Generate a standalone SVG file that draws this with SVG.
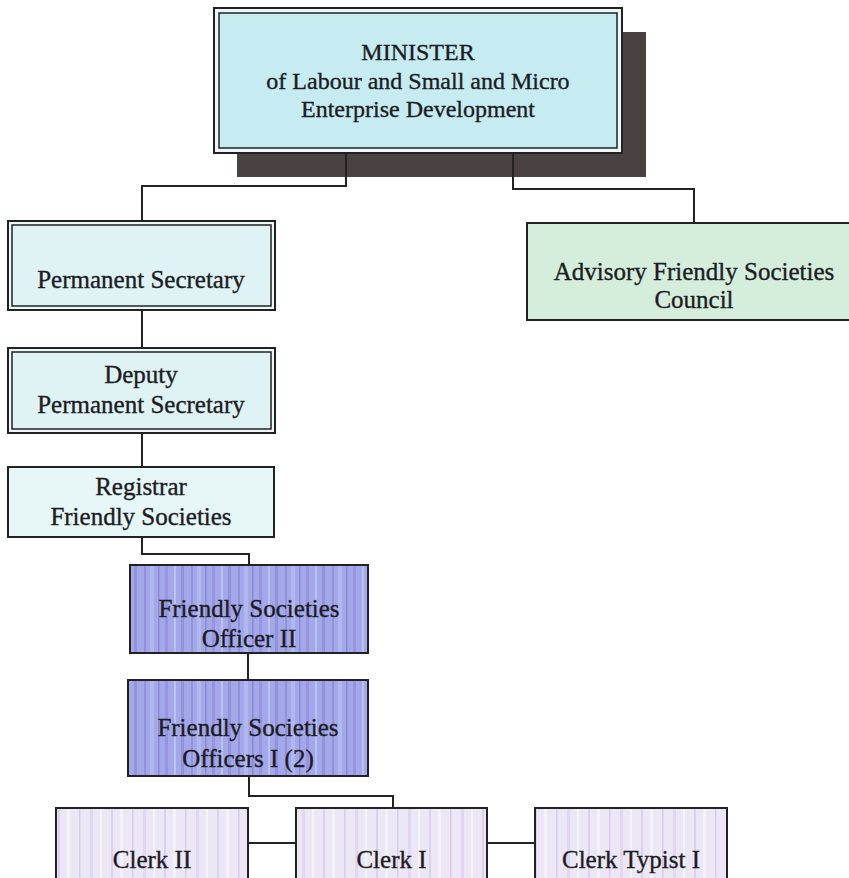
<svg xmlns="http://www.w3.org/2000/svg" width="849" height="878" viewBox="0 0 849 878">
<defs>
<style>
.t{font-family:"Liberation Serif","Times New Roman",serif;font-size:25px;fill:#1c1c24;stroke:#1c1c24;stroke-width:0.35;text-anchor:middle}
.tm{font-size:24px}
.ob{stroke:#222;stroke-width:2}
.ib{fill:none;stroke:#222;stroke-width:1.5}
.conn{fill:none;stroke:#232323;stroke-width:2}
</style>
<pattern id="purp" patternUnits="userSpaceOnUse" width="47" height="10">
<rect width="47" height="10" fill="#a3a9e8"/>
<rect x="3" width="2" height="10" fill="#8a80d2" opacity="0.6"/>
<rect x="9" width="4" height="10" fill="#b4bcf2" opacity="0.8"/>
<rect x="17" width="1.5" height="10" fill="#7e72c8" opacity="0.6"/>
<rect x="24" width="3" height="10" fill="#968be0" opacity="0.7"/>
<rect x="33" width="2" height="10" fill="#c0c7f6" opacity="0.8"/>
<rect x="40" width="3" height="10" fill="#8c82d6" opacity="0.6"/>
</pattern>
<pattern id="clerk" patternUnits="userSpaceOnUse" width="53" height="10">
<rect width="53" height="10" fill="#ece7f4"/>
<rect x="5" width="2" height="10" fill="#dac9ee" opacity="0.8"/>
<rect x="14" width="3" height="10" fill="#f4f1fa"/>
<rect x="26" width="1.5" height="10" fill="#d4c2ec" opacity="0.8"/>
<rect x="37" width="3" height="10" fill="#e2d6f2"/>
<rect x="47" width="2" height="10" fill="#f6f3fb"/>
</pattern>
</defs>
<rect width="849" height="878" fill="#ffffff"/>

<g id="minister">
<rect x="237" y="32" width="409" height="145" fill="#4a4143"/>
<rect class="ob" x="214" y="8" width="408" height="145" fill="#eef8f9"/>
<rect class="ib" x="219" y="13" width="398" height="135" style="fill:#c6ecf1"/>
<text class="t tm" x="418" y="60">MINISTER</text>
<text class="t tm" x="418" y="89">of Labour and Small and Micro</text>
<text class="t tm" x="418" y="117">Enterprise Development</text>
</g>

<g id="permanent-secretary">
<rect class="ob" x="8" y="221" width="267" height="89" fill="#eef8f9"/>
<rect class="ib" x="12" y="225" width="259" height="81" style="fill:#dff3f4"/>
<text class="t" x="141" y="288">Permanent Secretary</text>
</g>

<g id="advisory-council">
<rect class="ob" x="527" y="223" width="336" height="97" fill="#d5eedc"/>
<text class="t" x="694" y="280">Advisory Friendly Societies</text>
<text class="t" x="694" y="308">Council</text>
</g>

<g id="deputy-permanent-secretary">
<rect class="ob" x="8" y="348" width="267" height="85" fill="#eef8f9"/>
<rect class="ib" x="12" y="352" width="259" height="77" style="fill:#dff3f4"/>
<text class="t" x="141" y="383">Deputy</text>
<text class="t" x="141" y="413">Permanent Secretary</text>
</g>

<g id="registrar">
<rect class="ob" x="8" y="467" width="266" height="70" fill="#e7f6f6"/>
<text class="t" x="141" y="495">Registrar</text>
<text class="t" x="141" y="525">Friendly Societies</text>
</g>

<g id="fso-ii">
<rect class="ob" x="130" y="565" width="238" height="88" fill="url(#purp)"/>
<text class="t" x="249" y="617">Friendly Societies</text>
<text class="t" x="249" y="647">Officer II</text>
</g>

<g id="fso-i">
<rect class="ob" x="128" y="680" width="240" height="96" fill="url(#purp)"/>
<text class="t" x="248" y="736">Friendly Societies</text>
<text class="t" x="248" y="767">Officers I (2)</text>
</g>

<g id="clerk-ii">
<rect class="ob" x="56" y="808" width="192" height="90" fill="url(#clerk)"/>
<text class="t" x="152" y="868">Clerk II</text>
</g>

<g id="clerk-i">
<rect class="ob" x="296" y="808" width="191" height="90" fill="url(#clerk)"/>
<text class="t" x="391.5" y="868">Clerk I</text>
</g>

<g id="clerk-typist-i">
<rect class="ob" x="535" y="808" width="192" height="90" fill="url(#clerk)"/>
<text class="t" x="631" y="868">Clerk Typist I</text>
</g>

<g id="connectors">
<path class="conn" d="M346,153 V186 H142 V221"/>
<path class="conn" d="M513,153 V189 H694 V223"/>
<path class="conn" d="M142,310 V348"/>
<path class="conn" d="M142,433 V467"/>
<path class="conn" d="M142,537 V554 H249 V565"/>
<path class="conn" d="M248,653 V680"/>
<path class="conn" d="M249,776 V796 H393 V808"/>
<path class="conn" d="M248,843 H296"/>
<path class="conn" d="M487,843 H535"/>
</g>
</svg>
